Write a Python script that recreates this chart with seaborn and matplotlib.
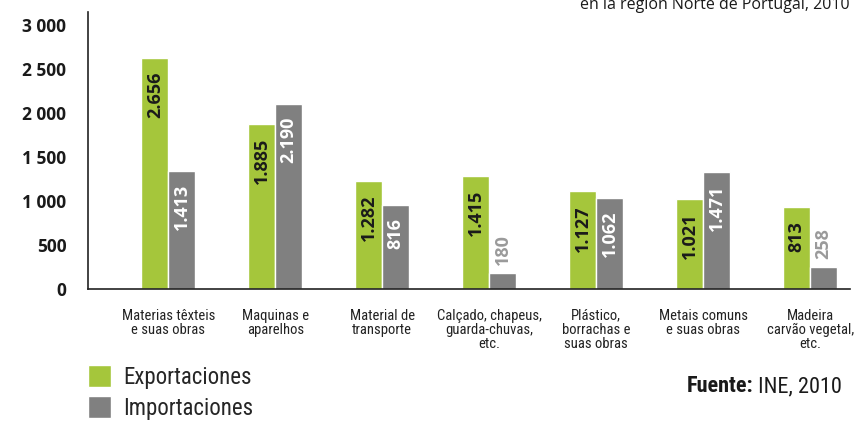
import matplotlib
matplotlib.use("Agg")
import matplotlib.pyplot as plt
import matplotlib.ticker as mticker
import seaborn as sns
import pandas as pd

# datos (millones de euros)
categorias = ["Materias têxteis\ne suas obras", "Maquinas e\naparelhos", "Material de\ntransporte",
              "Calçado, chapeus,\nguarda-chuvas,\netc.", "Plástico,\nborrachas e\nsuas obras",
              "Metais comuns\ne suas obras", "Madeira\ncarvão vegetal,\netc."]
exportaciones = [2625, 1875, 1227, 1284, 1114, 1023, 932]
importaciones = [1341, 2102, 955, 182, 1034, 1330, 250]
etiquetas_exp = ["2.656", "1.885", "1.282", "1.415", "1.127", "1.021", "813"]
etiquetas_imp = ["1.413", "2.190", "816", "180", "1.062", "1.471", "258"]
ticks_y = [0, 500, 1000, 1500, 2000, 2500, 3000]

verde = "#a5c63b"
gris = "#808080"
estrecha = ["Roboto Condensed", "PT Sans Narrow", "DejaVu Sans"]

df = pd.DataFrame({
    "categoria": categorias * 2,
    "valor": exportaciones + importaciones,
    "serie": ["Exportaciones"] * len(categorias) + ["Importaciones"] * len(categorias),
})

sns.set_style("white")
plt.rcParams["font.family"] = ["Open Sans", "DejaVu Sans"]

fig = plt.figure(figsize=(8.6, 4.22), dpi=100)
ax = fig.add_axes([0.1023, 0.315, 0.8857, 0.6566])

sns.barplot(data=df, x="categoria", y="valor", hue="serie", palette=[verde, gris],
            width=0.5, saturation=1, ax=ax, errorbar=None)

ax.set_xlim(-0.75, 6.37)
ax.set_ylim(0, 3148)
ax.set_xlabel("")
ax.set_ylabel("")

for s in ["top", "right"]:
    ax.spines[s].set_visible(False)
for s in ["left", "bottom"]:
    ax.spines[s].set_color("#222222")
    ax.spines[s].set_linewidth(1.2)

ax.set_yticks(ticks_y)
ax.yaxis.set_major_formatter(mticker.FuncFormatter(lambda v, p: f"{int(v):,}".replace(",", " ")))
ax.tick_params(axis="y", direction="inout", length=13, width=1.0, color="#222222",
               labelsize=12.5, pad=9)
for t in ax.get_yticklabels():
    t.set_fontweight("bold")
    t.set_color("#1a1a1a")

ax.tick_params(axis="x", length=0, pad=14)
ax.set_xticks(range(len(categorias)))
ax.set_xticklabels(categorias, fontsize=10.5, linespacing=1.0, color="#222222", family=estrecha)

# etiquetas verticales
cont_exp, cont_imp = ax.containers[0], ax.containers[1]
for bar, txt in zip(cont_exp, etiquetas_exp):
    x = bar.get_x() + bar.get_width() / 2
    ax.annotate(txt, (x, bar.get_height()), xytext=(0, -10), textcoords="offset points",
                rotation=90, ha="center", va="top", fontsize=13, fontweight="bold", color="#1a1a1a")
for bar, txt in zip(cont_imp, etiquetas_imp):
    x = bar.get_x() + bar.get_width() / 2
    h = bar.get_height()
    if h < 400:
        ax.annotate(txt, (x, h), xytext=(0, 6), textcoords="offset points",
                    rotation=90, ha="center", va="bottom", fontsize=13, fontweight="bold", color="#9a9a9a")
    else:
        ax.annotate(txt, (x, h), xytext=(0, -9), textcoords="offset points",
                    rotation=90, ha="center", va="top", fontsize=13, fontweight="bold", color="white")

# leyenda
handles, labels = ax.get_legend_handles_labels()
ax.legend_.remove()
fig.legend(handles, labels, loc="upper left", bbox_to_anchor=(0.102, 0.134), frameon=False,
           prop={"family": estrecha, "size": 16.5},
           handlelength=1.0, handleheight=1.1, handletextpad=0.55, labelspacing=0.3,
           borderpad=0, borderaxespad=0)

fuente = fig.text(0.798, 0.085, "Fuente:", ha="left", va="center", fontsize=16, fontweight="bold",
                  family=estrecha, color="#1a1a1a")
ax.annotate(" INE, 2010", xy=(1, 0), xycoords=fuente, ha="left", va="bottom", fontsize=16,
            family=estrecha, color="#1a1a1a", annotation_clip=False)

fig.text(0.988, 0.979, "en la región Norte de Portugal, 2010", ha="right", va="baseline",
         fontsize=11.5, color="#1a1a1a")

fig.savefig("out.png", dpi=100)
